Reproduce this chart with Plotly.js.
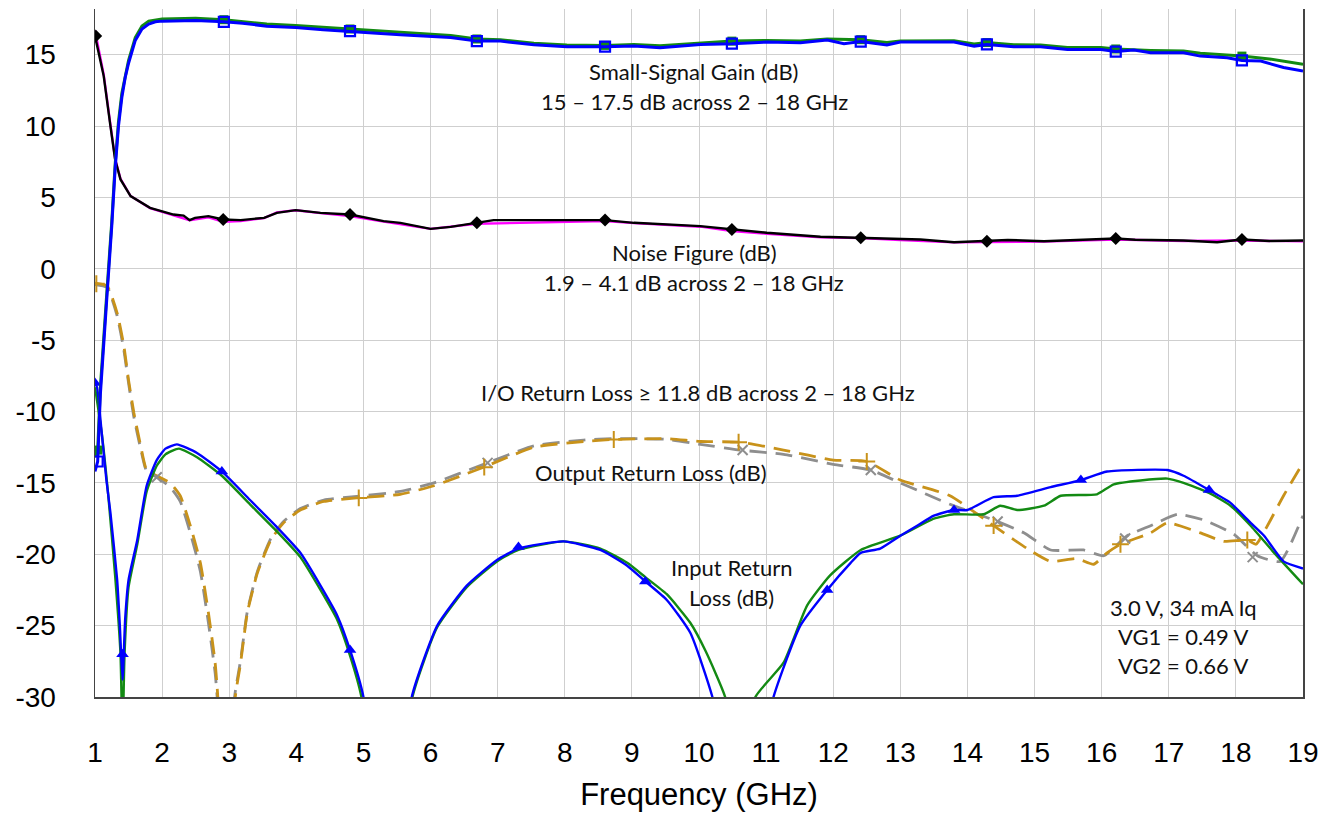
<!DOCTYPE html>
<html>
<head>
<meta charset="utf-8">
<script src="https://cdn.plot.ly/plotly-3.0.1.min.js"></script>
<style>html,body{margin:0;padding:0;background:#fff;}#chart{width:1335px;height:816px;}</style>
</head>
<body>
<div id="chart"></div>
<script>
// ---------- Data ----------
// Axis tick labels
const yTickVals = [-30,-25,-20,-15,-10,-5,0,5,10,15];
const yTickText = ["-30","-25","-20","-15","-10","-5","0","5","10","15"];

// Small-signal gain, measured (blue)
const gainBlueF = [1.0,1.04,1.08,1.13,1.18,1.25,1.30,1.35,1.40,1.45,1.50,1.60,1.70,1.80,1.90,2.0,2.5,2.92,3.2,3.56,3.99,4.4,4.80,5.2,5.55,6.0,6.3,6.69,7.04,7.54,8.03,8.6,9.03,9.42,10.02,10.49,11.01,11.51,11.91,12.16,12.41,12.8,13.0,13.8,14.1,14.29,14.69,15.09,15.49,15.99,16.21,16.48,16.73,17.22,17.47,17.87,18.09,18.37,18.71,19.0];
const gainBlue  = [-14.2,-13.5,-8.8,-5.0,-1.8,3.0,7.0,10.0,12.0,13.4,14.4,16.0,16.8,17.15,17.3,17.35,17.4,17.3,17.2,17.0,16.9,16.75,16.65,16.5,16.4,16.25,16.2,15.95,15.95,15.7,15.56,15.56,15.6,15.49,15.72,15.77,15.88,15.84,16.02,15.77,15.92,15.68,15.88,15.88,15.6,15.72,15.56,15.56,15.37,15.37,15.22,15.32,15.14,15.14,14.9,14.79,14.6,14.55,14.1,13.85];
// Small-signal gain, second unit (green)
const gainGreenF = [1.0,1.04,1.08,1.13,1.18,1.25,1.30,1.35,1.40,1.50,1.60,1.70,1.80,2.0,2.5,2.92,3.56,3.99,4.80,5.55,6.3,6.69,7.04,7.54,8.03,8.6,9.03,9.42,10.02,10.49,11.01,11.51,11.91,12.41,12.8,13.0,13.8,14.1,14.29,14.69,15.09,15.49,15.99,16.21,16.73,17.22,17.47,17.87,18.09,18.5,19.0];
const gainGreen  = [-13.2,-12.7,-8.3,-4.6,-1.4,3.3,7.3,10.3,12.3,14.6,16.2,17.0,17.35,17.5,17.55,17.45,17.15,17.05,16.8,16.55,16.35,16.1,16.05,15.8,15.68,15.65,15.72,15.62,15.82,15.95,16.0,15.95,16.1,16.05,15.85,15.95,15.98,15.75,15.85,15.7,15.68,15.5,15.5,15.4,15.3,15.25,15.1,15.0,14.9,14.7,14.32];
const gainMarkF     = [1.04,2.92,4.80,6.69,8.6,10.49,12.41,14.29,16.21,18.09];
const gainMarkBlue  = [-13.5,17.3,16.65,15.95,15.56,15.77,15.92,15.72,15.22,14.6];
const gainMarkGreen = [-12.7,17.45,16.8,16.1,15.65,15.95,16.05,15.85,15.4,14.9];

// Noise figure (black and magenta)
const nfBlackF = [1.0,1.13,1.23,1.30,1.38,1.53,1.82,2.17,2.32,2.41,2.49,2.69,2.91,3.17,3.52,3.71,3.99,4.36,4.80,5.30,5.55,6.0,6.3,6.69,6.94,8.6,9.03,10.02,10.49,11.01,11.81,12.41,13.0,13.3,13.8,14.29,14.6,15.14,15.5,16.21,16.5,17.22,17.72,18.09,18.5,19.0];
const nfBlack  = [16.3,13.5,10.0,7.66,6.26,5.09,4.27,3.8,3.73,3.41,3.57,3.69,3.45,3.41,3.57,3.92,4.11,3.92,3.8,3.34,3.22,2.8,2.94,3.22,3.41,3.41,3.22,2.99,2.75,2.52,2.24,2.17,2.1,2.05,1.86,1.93,2.02,1.93,2.0,2.12,2.03,1.98,1.86,2.05,1.95,1.98];
const nfMagF = [1.0,1.13,1.23,1.30,1.38,1.53,1.82,2.17,2.41,2.69,2.91,3.17,3.52,3.71,3.99,4.36,4.80,5.30,6.0,6.69,8.6,9.03,10.02,10.49,11.01,11.81,12.41,13.0,13.8,14.29,15.14,16.21,17.22,18.09,19.0];
const nfMag  = [16.7,13.6,10.1,7.7,6.3,5.1,4.25,3.75,3.4,3.6,3.3,3.35,3.55,3.95,4.1,3.9,3.7,3.3,2.8,3.15,3.35,3.2,2.95,2.65,2.45,2.2,2.15,2.02,1.85,1.88,1.9,2.05,1.95,1.98,1.92];
const nfMarkF = [1.01,2.91,4.80,6.69,8.6,10.49,12.41,14.29,16.21,18.09];
const nfMark  = [16.3,3.45,3.8,3.22,3.41,2.75,2.17,1.93,2.12,2.05];

// Input return loss (blue and green)
const irlBlueF = [1.0,1.03,1.1,1.17,1.23,1.33,1.37,1.41,1.45,1.50,1.63,1.77,1.92,2.05,2.22,2.52,2.89,3.31,3.71,4.06,4.36,4.61,4.80,5.0,5.36,5.72,6.10,6.54,6.99,7.31,7.98,8.53,8.93,9.2,9.52,9.87,10.2,10.65,11.11,11.51,11.91,12.26,12.41,12.7,13.0,13.25,13.5,13.8,14.0,14.39,14.74,15.24,15.69,16.08,16.98,17.22,17.6,17.92,18.22,18.42,18.71,19.0];
const irlBlue  = [-8.0,-8.3,-11.5,-14.8,-17.1,-21.8,-25.0,-28.8,-24.5,-21.8,-19.0,-15.2,-13.4,-12.6,-12.3,-12.9,-14.2,-16.2,-18.1,-19.9,-22.2,-24.3,-26.7,-30,-45,-30,-25.0,-22.2,-20.4,-19.6,-19.1,-19.7,-20.8,-21.9,-23.2,-25.5,-30,-40,-30,-25.0,-22.5,-20.6,-19.9,-19.6,-18.7,-18.0,-17.3,-16.9,-16.9,-16.0,-15.9,-15.3,-14.8,-14.2,-14.1,-14.5,-15.5,-16.4,-17.8,-18.7,-20.5,-21.0];
const irlGreenF = [1.0,1.1,1.2,1.3,1.38,1.41,1.44,1.50,1.63,1.77,1.92,2.05,2.25,2.52,2.89,3.31,3.71,4.06,4.36,4.61,4.80,4.97,5.35,5.73,6.10,6.54,6.99,7.31,7.98,8.53,8.93,9.2,9.52,9.87,10.1,10.39,10.6,10.84,11.26,11.61,11.95,12.41,13.0,13.5,13.8,14.24,14.49,14.74,15.14,15.39,15.93,16.18,16.98,17.22,17.6,17.92,18.22,18.57,19.0];
const irlGreen  = [-8.3,-11.5,-16.0,-21.5,-27.0,-33.0,-27.0,-22.3,-19.3,-15.6,-13.8,-13.0,-12.6,-13.2,-14.5,-16.5,-18.4,-20.2,-22.5,-24.6,-27.1,-30,-45,-30,-25.1,-22.3,-20.5,-19.7,-19.1,-19.6,-20.6,-21.6,-22.8,-24.8,-26.8,-30,-35,-30,-27.6,-23.6,-21.5,-19.7,-18.7,-17.5,-17.2,-17.2,-16.6,-16.9,-16.6,-15.9,-15.8,-15.1,-14.7,-15.0,-15.7,-16.6,-18.0,-19.9,-22.1];
const irlMarkF = [1.0,1.41,2.89,4.80,7.31,9.2,11.91,13.8,15.69,17.6];
const irlMark  = [-8.0,-27.0,-14.2,-26.7,-19.5,-21.9,-22.5,-16.9,-14.8,-15.5];

// Output return loss (gold and gray, dashed)
const orlGoldF = [1.0,1.18,1.33,1.43,1.50,1.58,1.68,1.77,1.92,2.12,2.27,2.42,2.57,2.69,2.79,2.83,2.95,3.09,3.17,3.27,3.42,3.62,3.81,4.06,4.41,4.90,5.55,6.05,6.79,7.54,8.28,8.73,9.52,10.02,10.61,11.26,12.0,12.5,13.0,13.74,14.39,14.89,15.24,15.63,15.88,16.08,16.28,16.73,16.98,17.47,17.82,18.17,18.3,18.47,18.71,19.0];
const orlGold  = [-1.0,-1.2,-3.1,-5.4,-7.8,-10.1,-12.4,-14.1,-14.5,-15.0,-15.9,-18.0,-20.6,-24.1,-27.6,-30,-42,-30,-27.6,-24.1,-21.3,-19.0,-17.8,-16.9,-16.3,-16.05,-15.8,-15.2,-13.9,-12.5,-12.1,-11.96,-11.9,-12.1,-12.15,-12.7,-13.4,-13.5,-14.8,-15.9,-18.0,-19.6,-20.5,-20.3,-20.7,-19.9,-19.3,-18.5,-17.8,-18.5,-19.1,-19.0,-19.3,-18.0,-15.9,-13.6];
const orlGrayF = [1.0,1.18,1.33,1.43,1.50,1.58,1.68,1.77,1.92,2.12,2.27,2.42,2.57,2.69,2.79,2.82,2.95,3.08,3.17,3.27,3.42,3.62,3.81,4.06,4.41,4.90,5.55,6.05,6.79,7.54,8.28,8.73,9.52,10.02,10.61,11.26,12.0,12.56,13.0,13.74,14.39,14.84,15.24,15.73,16.03,16.38,16.73,17.13,17.52,17.97,18.32,18.66,19.0];
const orlGray  = [-1.1,-1.3,-3.3,-5.7,-8.0,-10.4,-12.6,-14.2,-14.6,-15.3,-16.3,-18.5,-21.2,-24.8,-28.3,-30,-42,-30,-27.4,-24.0,-21.2,-18.9,-17.7,-16.8,-16.2,-15.95,-15.6,-15.0,-13.7,-12.4,-12.0,-11.9,-11.95,-12.3,-12.7,-13.0,-13.7,-14.1,-15.0,-16.5,-17.6,-18.5,-19.7,-19.7,-20.1,-18.7,-18.0,-17.2,-17.6,-18.6,-20.1,-20.5,-17.3];
const orlGoldMarkF = [1.02,4.93,6.8,8.73,10.59,12.5,14.39,16.28,18.17];
const orlGoldMark  = [-1.05,-16.05,-13.9,-11.96,-12.15,-13.5,-18.0,-19.3,-19.0];
const orlGrayMarkF = [1.92,6.85,10.65,12.56,14.45,16.35,18.25];
const orlGrayMark  = [-14.6,-13.6,-12.7,-14.1,-17.7,-18.9,-20.2];

// Annotation texts
const notes = [
  {x: 9.93, y: 13.8, t: "Small-Signal Gain (dB)"},
  {x: 9.93, y: 11.7, t: "15 – 17.5 dB across 2 – 18 GHz"},
  {x: 9.93, y: 1.15, t: "Noise Figure (dB)"},
  {x: 9.93, y: -0.95, t: "1.9 – 4.1 dB across 2 – 18 GHz"},
  {x: 9.99, y: -8.7, t: "I/O Return Loss ≥ 11.8 dB across 2 – 18 GHz"},
  {x: 9.29, y: -14.3, t: "Output Return Loss (dB)"},
  {x: 10.48, y: -20.95, t: "Input Return"},
  {x: 10.48, y: -23.05, t: "Loss (dB)"},
  {x: 17.22, y: -23.7, t: "3.0 V, 34 mA Iq"},
  {x: 17.22, y: -25.75, t: "VG1 = 0.49 V"},
  {x: 17.22, y: -27.8, t: "VG2 = 0.66 V"}
];

// ---------- Styles ----------
const GREEN = "#138a13", BLUE = "#0000ff", GOLD = "#c8921a", GRAY = "#8e8e8e", MAG = "#ff00ff";
const dashPat = "17px,9px";
const AX_FONT = "Arial, 'Liberation Sans', sans-serif";
const SMOOTH = {shape: "spline", smoothing: 0.5};

const traces = [
  {x: orlGrayF, y: orlGray, mode: "lines", line: Object.assign({color: GRAY, width: 2.8, dash: dashPat}, SMOOTH)},
  {x: orlGoldF, y: orlGold, mode: "lines", line: Object.assign({color: GOLD, width: 2.8, dash: dashPat}, SMOOTH)},
  {x: orlGrayMarkF, y: orlGrayMark, mode: "markers", marker: {symbol: "x-thin-open", size: 10, color: GRAY, line: {color: GRAY, width: 2}}},
  {x: orlGoldMarkF, y: orlGoldMark, mode: "markers", marker: {symbol: "cross-thin-open", size: 12, color: GOLD, line: {color: GOLD, width: 2}}},
  {x: irlGreenF, y: irlGreen, mode: "lines", line: Object.assign({color: GREEN, width: 2.4}, SMOOTH)},
  {x: irlBlueF, y: irlBlue, mode: "lines", line: Object.assign({color: BLUE, width: 2.4}, SMOOTH)},
  {x: irlMarkF, y: irlMark, mode: "markers", marker: {symbol: "triangle-up", size: 11, color: BLUE}},
  {x: nfMagF, y: nfMag, mode: "lines", line: {color: MAG, width: 2.4}},
  {x: nfBlackF, y: nfBlack, mode: "lines", line: {color: "#000000", width: 2.4}},
  {x: nfMarkF, y: nfMark, mode: "markers", marker: {symbol: "diamond", size: 10, color: "#000000"}},
  {x: gainGreenF, y: gainGreen, mode: "lines", line: {color: GREEN, width: 3}},
  {x: gainMarkF, y: gainMarkGreen, mode: "markers", marker: {symbol: "square", size: 9, color: GREEN}},
  {x: gainBlueF, y: gainBlue, mode: "lines", line: {color: BLUE, width: 3}},
  {x: gainMarkF, y: gainMarkBlue, mode: "markers", marker: {symbol: "square-open", size: 10, color: BLUE, line: {color: BLUE, width: 2.2}}}
];

const annFont = {family: "Lato, 'Open Sans', sans-serif", size: 22, color: "#111"};
const annotations = notes.map(n => ({
  x: n.x, y: n.y, xref: "x", yref: "y", text: n.t, showarrow: false,
  font: annFont, xanchor: "center", yanchor: "middle"
}));

const layout = {
  width: 1335, height: 816,
  margin: {l: 95, r: 32, t: 9, b: 119},
  paper_bgcolor: "#ffffff", plot_bgcolor: "#ffffff",
  showlegend: false,
  font: {family: AX_FONT, color: "#000"},
  xaxis: {
    range: [1, 19], tick0: 1, dtick: 1, showgrid: true, gridcolor: "#cfcfcf", gridwidth: 1,
    zeroline: false, showline: true, linecolor: "#444", linewidth: 1.5, mirror: false,
    ticks: "", ticklabelstandoff: 30,
    tickfont: {family: AX_FONT, size: 28, color: "#000"},
    title: {text: "Frequency (GHz)", standoff: 16, font: {family: AX_FONT, size: 31, color: "#000"}}
  },
  yaxis: {
    range: [-30, 18.2], tickmode: "array", tickvals: yTickVals, ticktext: yTickText,
    showgrid: true, gridcolor: "#cfcfcf", gridwidth: 1,
    zeroline: false, showline: true, linecolor: "#444", linewidth: 1.5, mirror: true,
    ticks: "", ticklabelstandoff: 32,
    tickfont: {family: AX_FONT, size: 28, color: "#000"}
  },
  annotations: annotations
};

Plotly.newPlot("chart", traces, layout, {staticPlot: true, displayModeBar: false});
</script>
</body>
</html>
